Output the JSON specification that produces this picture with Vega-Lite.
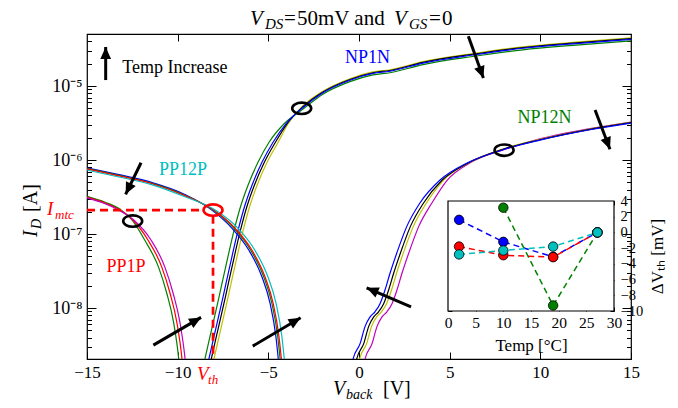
{
  "$schema": "https://vega.github.io/schema/vega-lite/v6.json",
  "width": 544,
  "height": 325,
  "autosize": {"type": "none"},
  "padding": {"left": 87, "top": 34, "right": 47, "bottom": 49},
  "background": "white",
  "config": {
    "font": "Liberation Serif",
    "view": {"stroke": "black", "strokeWidth": 1.2},
    "axis": {"grid": false, "domain": false, "tickColor": "black", "tickWidth": 1, "labelColor": "black", "labelFont": "Liberation Serif", "labelFontSize": 17, "titleFont": "Liberation Serif", "titleFontWeight": "normal", "titleColor": "black", "titleFontSize": 17, "labelFlush": false, "labelOverlap": false, "zindex": 1},
    "text": {"font": "Liberation Serif"}
  },
  "datasets": {
    "curves": [
      {"s":"NP1N-1","v":-8.17,"i":1.32e-9},{"s":"NP1N-1","v":-7.99,"i":2.09e-9},{"s":"NP1N-1","v":-7.61,"i":5.37e-9},{"s":"NP1N-1","v":-7.22,"i":1.41e-8},{"s":"NP1N-1","v":-6.84,"i":3.72e-8},{"s":"NP1N-1","v":-6.39,"i":1.12e-7},{"s":"NP1N-1","v":-6.01,"i":2.45e-7},{"s":"NP1N-1","v":-5.62,"i":4.57e-7},{"s":"NP1N-1","v":-5.07,"i":9.33e-7},{"s":"NP1N-1","v":-4.46,"i":1.74e-6},{"s":"NP1N-1","v":-3.91,"i":3.09e-6},{"s":"NP1N-1","v":-3.14,"i":5.25e-6},{"s":"NP1N-1","v":-1.99,"i":8.51e-6},{"s":"NP1N-1","v":-0.5,"i":1.256e-5},{"s":"NP1N-1","v":0.77,"i":1.55e-5},{"s":"NP1N-1","v":1.71,"i":1.66e-5},{"s":"NP1N-1","v":3.53,"i":2.14e-5},{"s":"NP1N-1","v":6.29,"i":2.75e-5},{"s":"NP1N-1","v":9.05,"i":3.39e-5},{"s":"NP1N-1","v":11.8,"i":3.89e-5},{"s":"NP1N-1","v":15,"i":4.47e-5},
      {"s":"NP1N-3","v":-8.32,"i":1.32e-9},{"s":"NP1N-3","v":-8.14,"i":2.09e-9},{"s":"NP1N-3","v":-7.76,"i":5.37e-9},{"s":"NP1N-3","v":-7.37,"i":1.41e-8},{"s":"NP1N-3","v":-6.99,"i":3.72e-8},{"s":"NP1N-3","v":-6.54,"i":1.12e-7},{"s":"NP1N-3","v":-6.16,"i":2.45e-7},{"s":"NP1N-3","v":-5.77,"i":4.57e-7},{"s":"NP1N-3","v":-5.22,"i":9.33e-7},{"s":"NP1N-3","v":-4.61,"i":1.74e-6},{"s":"NP1N-3","v":-3.97,"i":3.09e-6},{"s":"NP1N-3","v":-3.14,"i":5.13e-6},{"s":"NP1N-3","v":-1.99,"i":8.32e-6},{"s":"NP1N-3","v":-0.5,"i":1.228e-5},{"s":"NP1N-3","v":0.77,"i":1.514e-5},{"s":"NP1N-3","v":1.71,"i":1.622e-5},{"s":"NP1N-3","v":3.53,"i":2.09e-5},{"s":"NP1N-3","v":6.29,"i":2.69e-5},{"s":"NP1N-3","v":9.05,"i":3.31e-5},{"s":"NP1N-3","v":11.8,"i":3.81e-5},{"s":"NP1N-3","v":15,"i":4.37e-5},
      {"s":"NP1N-2","v":-8.67,"i":1.32e-9},{"s":"NP1N-2","v":-8.49,"i":2.09e-9},{"s":"NP1N-2","v":-8.11,"i":5.37e-9},{"s":"NP1N-2","v":-7.72,"i":1.41e-8},{"s":"NP1N-2","v":-7.34,"i":3.72e-8},{"s":"NP1N-2","v":-6.89,"i":1.12e-7},{"s":"NP1N-2","v":-6.51,"i":2.45e-7},{"s":"NP1N-2","v":-6.12,"i":4.57e-7},{"s":"NP1N-2","v":-5.57,"i":9.33e-7},{"s":"NP1N-2","v":-4.96,"i":1.74e-6},{"s":"NP1N-2","v":-4.13,"i":3.09e-6},{"s":"NP1N-2","v":-3.14,"i":4.78e-6},{"s":"NP1N-2","v":-1.99,"i":7.76e-6},{"s":"NP1N-2","v":-0.5,"i":1.146e-5},{"s":"NP1N-2","v":0.77,"i":1.413e-5},{"s":"NP1N-2","v":1.71,"i":1.514e-5},{"s":"NP1N-2","v":3.53,"i":1.95e-5},{"s":"NP1N-2","v":6.29,"i":2.51e-5},{"s":"NP1N-2","v":9.05,"i":3.09e-5},{"s":"NP1N-2","v":11.8,"i":3.55e-5},{"s":"NP1N-2","v":15,"i":4.08e-5},
      {"s":"NP1N-4","v":-8.45,"i":1.32e-9},{"s":"NP1N-4","v":-8.27,"i":2.09e-9},{"s":"NP1N-4","v":-7.89,"i":5.37e-9},{"s":"NP1N-4","v":-7.5,"i":1.41e-8},{"s":"NP1N-4","v":-7.12,"i":3.72e-8},{"s":"NP1N-4","v":-6.67,"i":1.12e-7},{"s":"NP1N-4","v":-6.29,"i":2.45e-7},{"s":"NP1N-4","v":-5.9,"i":4.57e-7},{"s":"NP1N-4","v":-5.35,"i":9.33e-7},{"s":"NP1N-4","v":-4.74,"i":1.74e-6},{"s":"NP1N-4","v":-4.03,"i":3.09e-6},{"s":"NP1N-4","v":-3.14,"i":5.01e-6},{"s":"NP1N-4","v":-1.99,"i":8.13e-6},{"s":"NP1N-4","v":-0.5,"i":1.2e-5},{"s":"NP1N-4","v":0.77,"i":1.48e-5},{"s":"NP1N-4","v":1.71,"i":1.585e-5},{"s":"NP1N-4","v":3.53,"i":2.04e-5},{"s":"NP1N-4","v":6.29,"i":2.63e-5},{"s":"NP1N-4","v":9.05,"i":3.24e-5},{"s":"NP1N-4","v":11.8,"i":3.72e-5},{"s":"NP1N-4","v":15,"i":4.27e-5},
      {"s":"NP12N-1","v":0.21,"i":1.26e-9},{"s":"NP12N-1","v":0.33,"i":2.04e-9},{"s":"NP12N-1","v":0.72,"i":3.31e-9},{"s":"NP12N-1","v":0.99,"i":5.62e-9},{"s":"NP12N-1","v":1.27,"i":7.59e-9},{"s":"NP12N-1","v":1.54,"i":8.91e-9},{"s":"NP12N-1","v":1.82,"i":1.148e-8},{"s":"NP12N-1","v":2.09,"i":1.74e-8},{"s":"NP12N-1","v":2.37,"i":2.95e-8},{"s":"NP12N-1","v":2.74,"i":5.5e-8},{"s":"NP12N-1","v":3.29,"i":1.26e-7},{"s":"NP12N-1","v":4.02,"i":2.63e-7},{"s":"NP12N-1","v":4.87,"i":5.37e-7},{"s":"NP12N-1","v":6.11,"i":9.12e-7},{"s":"NP12N-1","v":7.99,"i":1.38e-6},{"s":"NP12N-1","v":9.98,"i":1.93e-6},{"s":"NP12N-1","v":12.74,"i":2.66e-6},{"s":"NP12N-1","v":15,"i":3.27e-6},
      {"s":"NP12N-2","v":-0.09,"i":1.26e-9},{"s":"NP12N-2","v":0.03,"i":2.04e-9},{"s":"NP12N-2","v":0.42,"i":3.31e-9},{"s":"NP12N-2","v":0.69,"i":5.62e-9},{"s":"NP12N-2","v":0.97,"i":7.59e-9},{"s":"NP12N-2","v":1.24,"i":8.91e-9},{"s":"NP12N-2","v":1.52,"i":1.148e-8},{"s":"NP12N-2","v":1.79,"i":1.74e-8},{"s":"NP12N-2","v":2.07,"i":2.95e-8},{"s":"NP12N-2","v":2.44,"i":5.5e-8},{"s":"NP12N-2","v":2.99,"i":1.26e-7},{"s":"NP12N-2","v":3.72,"i":2.63e-7},{"s":"NP12N-2","v":4.67,"i":5.37e-7},{"s":"NP12N-2","v":6.04,"i":9.12e-7},{"s":"NP12N-2","v":7.94,"i":1.41e-6},{"s":"NP12N-2","v":9.98,"i":1.9e-6},{"s":"NP12N-2","v":12.74,"i":2.63e-6},{"s":"NP12N-2","v":15,"i":3.23e-6},
      {"s":"NP12N-3","v":-0.25,"i":1.26e-9},{"s":"NP12N-3","v":-0.13,"i":2.04e-9},{"s":"NP12N-3","v":0.26,"i":3.31e-9},{"s":"NP12N-3","v":0.53,"i":5.62e-9},{"s":"NP12N-3","v":0.81,"i":7.59e-9},{"s":"NP12N-3","v":1.08,"i":8.91e-9},{"s":"NP12N-3","v":1.36,"i":1.148e-8},{"s":"NP12N-3","v":1.63,"i":1.74e-8},{"s":"NP12N-3","v":1.91,"i":2.95e-8},{"s":"NP12N-3","v":2.28,"i":5.5e-8},{"s":"NP12N-3","v":2.83,"i":1.26e-7},{"s":"NP12N-3","v":3.56,"i":2.63e-7},{"s":"NP12N-3","v":4.59,"i":5.37e-7},{"s":"NP12N-3","v":6.01,"i":9.12e-7},{"s":"NP12N-3","v":7.94,"i":1.397e-6},{"s":"NP12N-3","v":9.98,"i":1.88e-6},{"s":"NP12N-3","v":12.74,"i":2.6e-6},{"s":"NP12N-3","v":15,"i":3.2e-6},
      {"s":"NP12N-4","v":-0.45,"i":1.26e-9},{"s":"NP12N-4","v":-0.33,"i":2.04e-9},{"s":"NP12N-4","v":0.06,"i":3.31e-9},{"s":"NP12N-4","v":0.33,"i":5.62e-9},{"s":"NP12N-4","v":0.61,"i":7.59e-9},{"s":"NP12N-4","v":0.88,"i":8.91e-9},{"s":"NP12N-4","v":1.16,"i":1.148e-8},{"s":"NP12N-4","v":1.43,"i":1.74e-8},{"s":"NP12N-4","v":1.71,"i":2.95e-8},{"s":"NP12N-4","v":2.08,"i":5.5e-8},{"s":"NP12N-4","v":2.63,"i":1.26e-7},{"s":"NP12N-4","v":3.36,"i":2.63e-7},{"s":"NP12N-4","v":4.47,"i":5.37e-7},{"s":"NP12N-4","v":5.96,"i":9.12e-7},{"s":"NP12N-4","v":7.94,"i":1.38e-6},{"s":"NP12N-4","v":9.98,"i":1.86e-6},{"s":"NP12N-4","v":12.74,"i":2.57e-6},{"s":"NP12N-4","v":15,"i":3.16e-6},
      {"s":"PP12P-1","v":-15,"i":7.86e-7},{"s":"PP12P-1","v":-13.3,"i":6.39e-7},{"s":"PP12P-1","v":-11.4,"i":4.96e-7},{"s":"PP12P-1","v":-9.6,"i":3.43e-7},{"s":"PP12P-1","v":-8.15,"i":2.14e-7},{"s":"PP12P-1","v":-7.01,"i":1.2e-7},{"s":"PP12P-1","v":-6.07,"i":6.03e-8},{"s":"PP12P-1","v":-5.35,"i":2.63e-8},{"s":"PP12P-1","v":-4.91,"i":1.175e-8},{"s":"PP12P-1","v":-4.58,"i":4.07e-9},{"s":"PP12P-1","v":-4.45,"i":2.04e-9},{"s":"PP12P-1","v":-4.37,"i":1.26e-9},
      {"s":"PP12P-2","v":-15,"i":7.68e-7},{"s":"PP12P-2","v":-13.3,"i":6.24e-7},{"s":"PP12P-2","v":-11.4,"i":4.85e-7},{"s":"PP12P-2","v":-9.6,"i":3.35e-7},{"s":"PP12P-2","v":-8.09,"i":2.14e-7},{"s":"PP12P-2","v":-6.91,"i":1.2e-7},{"s":"PP12P-2","v":-5.97,"i":6.03e-8},{"s":"PP12P-2","v":-5.25,"i":2.63e-8},{"s":"PP12P-2","v":-4.81,"i":1.175e-8},{"s":"PP12P-2","v":-4.48,"i":4.07e-9},{"s":"PP12P-2","v":-4.35,"i":2.04e-9},{"s":"PP12P-2","v":-4.27,"i":1.26e-9},
      {"s":"PP12P-3","v":-15,"i":7.59e-7},{"s":"PP12P-3","v":-13.3,"i":6.17e-7},{"s":"PP12P-3","v":-11.4,"i":4.79e-7},{"s":"PP12P-3","v":-9.6,"i":3.31e-7},{"s":"PP12P-3","v":-8.05,"i":2.14e-7},{"s":"PP12P-3","v":-6.84,"i":1.2e-7},{"s":"PP12P-3","v":-5.9,"i":6.03e-8},{"s":"PP12P-3","v":-5.18,"i":2.63e-8},{"s":"PP12P-3","v":-4.74,"i":1.175e-8},{"s":"PP12P-3","v":-4.41,"i":4.07e-9},{"s":"PP12P-3","v":-4.28,"i":2.04e-9},{"s":"PP12P-3","v":-4.2,"i":1.26e-9},
      {"s":"PP12P-4","v":-15,"i":7.32e-7},{"s":"PP12P-4","v":-13.3,"i":5.95e-7},{"s":"PP12P-4","v":-11.4,"i":4.62e-7},{"s":"PP12P-4","v":-9.6,"i":3.19e-7},{"s":"PP12P-4","v":-7.97,"i":2.14e-7},{"s":"PP12P-4","v":-6.68,"i":1.2e-7},{"s":"PP12P-4","v":-5.74,"i":6.03e-8},{"s":"PP12P-4","v":-5.02,"i":2.63e-8},{"s":"PP12P-4","v":-4.58,"i":1.175e-8},{"s":"PP12P-4","v":-4.25,"i":4.07e-9},{"s":"PP12P-4","v":-4.12,"i":2.04e-9},{"s":"PP12P-4","v":-4.04,"i":1.26e-9},
      {"s":"PP1P-1","v":-15,"i":3.23e-7},{"s":"PP1P-1","v":-14,"i":2.69e-7},{"s":"PP1P-1","v":-13.18,"i":2.16e-7},{"s":"PP1P-1","v":-12.52,"i":1.55e-7},{"s":"PP1P-1","v":-11.82,"i":8.32e-8},{"s":"PP1P-1","v":-11.05,"i":3.55e-8},{"s":"PP1P-1","v":-10.6,"i":1.585e-8},{"s":"PP1P-1","v":-10.22,"i":6.31e-9},{"s":"PP1P-1","v":-9.94,"i":2.04e-9},{"s":"PP1P-1","v":-9.86,"i":1.26e-9},
      {"s":"PP1P-2","v":-15,"i":3.16e-7},{"s":"PP1P-2","v":-14,"i":2.63e-7},{"s":"PP1P-2","v":-13.18,"i":2.11e-7},{"s":"PP1P-2","v":-12.47,"i":1.55e-7},{"s":"PP1P-2","v":-11.64,"i":8.32e-8},{"s":"PP1P-2","v":-10.87,"i":3.55e-8},{"s":"PP1P-2","v":-10.42,"i":1.585e-8},{"s":"PP1P-2","v":-10.04,"i":6.31e-9},{"s":"PP1P-2","v":-9.76,"i":2.04e-9},{"s":"PP1P-2","v":-9.68,"i":1.26e-9},
      {"s":"PP1P-3","v":-15,"i":3.09e-7},{"s":"PP1P-3","v":-14,"i":2.57e-7},{"s":"PP1P-3","v":-13.18,"i":2.06e-7},{"s":"PP1P-3","v":-12.42,"i":1.55e-7},{"s":"PP1P-3","v":-11.47,"i":8.32e-8},{"s":"PP1P-3","v":-10.7,"i":3.55e-8},{"s":"PP1P-3","v":-10.25,"i":1.585e-8},{"s":"PP1P-3","v":-9.87,"i":6.31e-9},{"s":"PP1P-3","v":-9.59,"i":2.04e-9},{"s":"PP1P-3","v":-9.51,"i":1.26e-9}
    ],
    "inset": [
      {"dev":"NP1N","temp":2,"dvth":1.6},{"dev":"NP1N","temp":10,"dvth":-1.2},{"dev":"NP1N","temp":19,"dvth":-3.1},{"dev":"NP1N","temp":27,"dvth":0},
      {"dev":"NP12N","temp":10,"dvth":3.15},{"dev":"NP12N","temp":19,"dvth":-9.3},{"dev":"NP12N","temp":27,"dvth":0},
      {"dev":"PP1P","temp":2,"dvth":-1.8},{"dev":"PP1P","temp":10,"dvth":-2.9},{"dev":"PP1P","temp":19,"dvth":-3.15},{"dev":"PP1P","temp":27,"dvth":0},
      {"dev":"PP12P","temp":2,"dvth":-2.8},{"dev":"PP12P","temp":10,"dvth":-2.3},{"dev":"PP12P","temp":19,"dvth":-1.8},{"dev":"PP12P","temp":27,"dvth":0}
    ],
    "arrows": [
      {"v":-13.97,"i":1.205e-5,"v2":-13.97,"i2":3.37e-5,"dir":0},
      {"v":-12.02,"i":9.2e-7,"v2":-12.87,"i2":3.44e-7,"dir":205.8},
      {"v":6.03,"i":4.7e-5,"v2":6.86,"i2":1.28e-5,"dir":160.2},
      {"v":13.02,"i":4.74e-6,"v2":13.84,"i2":1.4e-6,"dir":159.1},
      {"v":-11.34,"i":3.16e-9,"v2":-8.71,"i2":7.48e-9,"dir":59.9},
      {"v":-5.86,"i":3.06e-9,"v2":-3.22,"i2":7.4e-9,"dir":59.5},
      {"v":2.87,"i":1.04e-8,"v2":0.42,"i2":1.88e-8,"dir":293.2}
    ],
    "labels": [
      {"t":"NP1N","dev":"NP1N","v":0.47,"i":2.4e-5},
      {"t":"NP12N","dev":"NP12N","v":10.23,"i":3.7e-6},
      {"t":"PP12P","dev":"PP12P","v":-9.71,"i":7.33e-7},
      {"t":"PP1P","dev":"PP1P","v":-12.85,"i":3.61e-8},
      {"t":"Temp Increase","dev":"note","v":-10.15,"i":1.75e-5}
    ]
  },
  "layer": [
    {
      "data": {"values": [{}]},
      "layer": [
        {
          "data": {"name": "curves"},
          "mark": {"type": "line", "clip": true, "strokeWidth": 1.2, "interpolate": "monotone"},
          "encoding": {
            "x": {"field": "v", "type": "quantitative", "scale": {"domain": [-15, 15], "nice": false, "zero": false},
                  "axis": {"orient": "bottom", "title": null, "values": [-15, -10, -5, 0, 5, 10, 15], "tickSize": -7, "labelPadding": 12}},
            "y": {"field": "i", "type": "quantitative", "scale": {"type": "log", "domain": [2.05e-9, 5.05e-5], "nice": false},
                  "axis": {"orient": "left", "title": null, "values": [1e-8, 1e-7, 1e-6, 1e-5], "tickSize": -9, "labelPadding": 14, "labelFontSize": 18,
                           "labelExpr": "datum.value > 9e-6 ? '10⁻⁵' : datum.value > 9e-7 ? '10⁻⁶' : datum.value > 9e-8 ? '10⁻⁷' : '10⁻⁸'"}},
            "stroke": {"field": "s", "type": "nominal", "legend": null,
                       "scale": {"domain": ["NP1N-1","NP1N-2","NP1N-3","NP1N-4","NP12N-1","NP12N-2","NP12N-3","NP12N-4","PP12P-1","PP12P-2","PP12P-3","PP12P-4","PP1P-1","PP1P-2","PP1P-3"],
                                 "range": ["#bfbf00","#008000","#000000","#0000ff","#bf00bf","#bfbf00","#000000","#0000ff","#0000ff","#008000","#ff0000","#00bfbf","#008000","#ff0000","#bf00bf"]}}
          }
        },
        {
          "mark": {"type": "point", "opacity": 0},
          "encoding": {
            "x": {"datum": 0, "type": "quantitative", "axis": {"orient": "top", "title": null, "values": [-10, -5, 0, 5, 10], "tickSize": -7, "labels": false}},
            "y": {"datum": 1e-6, "type": "quantitative", "axis": {"orient": "left", "title": null, "labels": false, "tickSize": -4.5,
                  "values": [3e-9,4e-9,5e-9,6e-9,7e-9,8e-9,9e-9,2e-8,3e-8,4e-8,5e-8,6e-8,7e-8,8e-8,9e-8,2e-7,3e-7,4e-7,5e-7,6e-7,7e-7,8e-7,9e-7,2e-6,3e-6,4e-6,5e-6,6e-6,7e-6,8e-6,9e-6,2e-5,3e-5,4e-5,5e-5]}}
          }
        },
        {
          "mark": {"type": "point", "opacity": 0},
          "encoding": {
            "x": {"datum": 0, "type": "quantitative", "axis": null},
            "y": {"datum": 1e-6, "type": "quantitative", "axis": {"orient": "right", "title": null, "labels": false, "tickSize": -9, "values": [1e-8, 1e-7, 1e-6, 1e-5]}}
          }
        },
        {
          "mark": {"type": "point", "opacity": 0},
          "encoding": {
            "x": {"datum": 0, "type": "quantitative", "axis": null},
            "y": {"datum": 1e-6, "type": "quantitative", "axis": {"orient": "right", "title": null, "labels": false, "tickSize": -4.5,
                  "values": [3e-9,4e-9,5e-9,6e-9,7e-9,8e-9,9e-9,2e-8,3e-8,4e-8,5e-8,6e-8,7e-8,8e-8,9e-8,2e-7,3e-7,4e-7,5e-7,6e-7,7e-7,8e-7,9e-7,2e-6,3e-6,4e-6,5e-6,6e-6,7e-6,8e-6,9e-6,2e-5,3e-5,4e-5,5e-5]}}
          }
        },
        {
          "data": {"values": [{"v":-15,"i":2.11e-7,"v2":-8.57,"i2":2.11e-7},{"v":-8.05,"i":1.77e-7,"v2":-8.05,"i2":2.05e-9}]},
          "mark": {"type": "rule", "color": "#ff0000", "strokeWidth": 2.7, "strokeDash": [8, 5]},
          "encoding": {
            "x": {"field": "v", "type": "quantitative", "axis": null},
            "y": {"field": "i", "type": "quantitative", "axis": null},
            "x2": {"field": "v2"},
            "y2": {"field": "i2"}
          }
        },
        {
          "data": {"values": [{"v":-12.48,"i":1.5e-7},{"v":-3.16,"i":5.0e-6},{"v":8.0,"i":1.36e-6}]},
          "mark": {"type": "point", "shape": "M -1 0 A 1 0.6 0 1 1 1 0 A 1 0.6 0 1 1 -1 0 Z", "size": 361, "filled": false, "stroke": "black", "strokeWidth": 2.6, "opacity": 1},
          "encoding": {
            "x": {"field": "v", "type": "quantitative", "axis": null},
            "y": {"field": "i", "type": "quantitative", "axis": null}
          }
        },
        {
          "data": {"values": [{"v":-8.05,"i":2.11e-7}]},
          "mark": {"type": "point", "shape": "M -1 0 A 1 0.6 0 1 1 1 0 A 1 0.6 0 1 1 -1 0 Z", "size": 361, "filled": false, "stroke": "#ff0000", "strokeWidth": 2.6, "opacity": 1},
          "encoding": {
            "x": {"field": "v", "type": "quantitative", "axis": null},
            "y": {"field": "i", "type": "quantitative", "axis": null}
          }
        },
        {
          "data": {"name": "arrows"},
          "mark": {"type": "rule", "color": "black", "strokeWidth": 3},
          "encoding": {
            "x": {"field": "v", "type": "quantitative", "axis": null},
            "y": {"field": "i", "type": "quantitative", "axis": null},
            "x2": {"field": "v2"},
            "y2": {"field": "i2"}
          }
        },
        {
          "data": {"name": "arrows"},
          "mark": {"type": "point", "shape": "M 0 0 L 0.45 1 L -0.45 1 Z", "size": 576, "filled": true, "color": "black", "opacity": 1, "strokeWidth": 0},
          "encoding": {
            "x": {"field": "v2", "type": "quantitative", "axis": null},
            "y": {"field": "i2", "type": "quantitative", "axis": null},
            "angle": {"field": "dir", "type": "quantitative", "scale": null}
          }
        },
        {
          "data": {"name": "labels"},
          "mark": {"type": "text", "fontSize": 18, "align": "center", "baseline": "middle"},
          "encoding": {
            "x": {"field": "v", "type": "quantitative", "axis": null},
            "y": {"field": "i", "type": "quantitative", "axis": null},
            "text": {"field": "t"},
            "color": {"field": "dev", "type": "nominal", "legend": null,
                      "scale": {"domain": ["NP1N", "NP12N", "PP1P", "PP12P", "note"], "range": ["#0000ff", "#008000", "#ff0000", "#00bfbf", "#000000"]}}
          }
        },
        {"mark": {"type": "text", "text": "V", "fontSize": 21, "fontStyle": "italic", "align": "left", "baseline": "alphabetic", "dx": -109, "dy": -9, "color": "black"},
         "encoding": {"x": {"datum": 0, "type": "quantitative", "axis": null}, "y": {"datum": 5.05e-5, "type": "quantitative", "axis": null}}},
        {"mark": {"type": "text", "text": "DS", "fontSize": 15, "fontStyle": "italic", "align": "left", "baseline": "alphabetic", "dx": -94, "dy": -5, "color": "black"},
         "encoding": {"x": {"datum": 0, "type": "quantitative", "axis": null}, "y": {"datum": 5.05e-5, "type": "quantitative", "axis": null}}},
        {"mark": {"type": "text", "text": "=", "fontSize": 21, "align": "left", "baseline": "alphabetic", "dx": -75, "dy": -9, "color": "black"},
         "encoding": {"x": {"datum": 0, "type": "quantitative", "axis": null}, "y": {"datum": 5.05e-5, "type": "quantitative", "axis": null}}},
        {"mark": {"type": "text", "text": "50mV and", "fontSize": 21, "align": "left", "baseline": "alphabetic", "dx": -62, "dy": -9, "color": "black"},
         "encoding": {"x": {"datum": 0, "type": "quantitative", "axis": null}, "y": {"datum": 5.05e-5, "type": "quantitative", "axis": null}}},
        {"mark": {"type": "text", "text": "V", "fontSize": 21, "fontStyle": "italic", "align": "left", "baseline": "alphabetic", "dx": 35, "dy": -9, "color": "black"},
         "encoding": {"x": {"datum": 0, "type": "quantitative", "axis": null}, "y": {"datum": 5.05e-5, "type": "quantitative", "axis": null}}},
        {"mark": {"type": "text", "text": "GS", "fontSize": 15, "fontStyle": "italic", "align": "left", "baseline": "alphabetic", "dx": 50, "dy": -5, "color": "black"},
         "encoding": {"x": {"datum": 0, "type": "quantitative", "axis": null}, "y": {"datum": 5.05e-5, "type": "quantitative", "axis": null}}},
        {"mark": {"type": "text", "text": "=", "fontSize": 21, "align": "left", "baseline": "alphabetic", "dx": 70, "dy": -9, "color": "black"},
         "encoding": {"x": {"datum": 0, "type": "quantitative", "axis": null}, "y": {"datum": 5.05e-5, "type": "quantitative", "axis": null}}},
        {"mark": {"type": "text", "text": "0", "fontSize": 21, "align": "left", "baseline": "alphabetic", "dx": 83, "dy": -9, "color": "black"},
         "encoding": {"x": {"datum": 0, "type": "quantitative", "axis": null}, "y": {"datum": 5.05e-5, "type": "quantitative", "axis": null}}},
        {"mark": {"type": "text", "text": "V", "fontSize": 20, "fontStyle": "italic", "align": "left", "baseline": "alphabetic", "dx": -26, "dy": 36, "color": "black"},
         "encoding": {"x": {"datum": 0, "type": "quantitative", "axis": null}, "y": {"datum": 2.05e-9, "type": "quantitative", "axis": null}}},
        {"mark": {"type": "text", "text": "back", "fontSize": 14, "fontStyle": "italic", "align": "left", "baseline": "alphabetic", "dx": -13, "dy": 40, "color": "black"},
         "encoding": {"x": {"datum": 0, "type": "quantitative", "axis": null}, "y": {"datum": 2.05e-9, "type": "quantitative", "axis": null}}},
        {"mark": {"type": "text", "text": "[V]", "fontSize": 20, "align": "left", "baseline": "alphabetic", "dx": 24, "dy": 36, "color": "black"},
         "encoding": {"x": {"datum": 0, "type": "quantitative", "axis": null}, "y": {"datum": 2.05e-9, "type": "quantitative", "axis": null}}},
        {"mark": {"type": "text", "text": "I", "fontSize": 20, "fontStyle": "italic", "align": "left", "baseline": "alphabetic", "angle": 270, "dx": -36, "dy": -50, "color": "black"},
         "encoding": {"x": {"datum": -15, "type": "quantitative", "axis": null}, "y": {"datum": 2.8e-7, "type": "quantitative", "axis": null}}},
        {"mark": {"type": "text", "text": "D", "fontSize": 14, "fontStyle": "italic", "align": "left", "baseline": "alphabetic", "angle": 270, "dx": -28, "dy": -46, "color": "black"},
         "encoding": {"x": {"datum": -15, "type": "quantitative", "axis": null}, "y": {"datum": 2.8e-7, "type": "quantitative", "axis": null}}},
        {"mark": {"type": "text", "text": "[A]", "fontSize": 20, "align": "left", "baseline": "alphabetic", "angle": 270, "dx": -11, "dy": -50, "color": "black"},
         "encoding": {"x": {"datum": -15, "type": "quantitative", "axis": null}, "y": {"datum": 2.8e-7, "type": "quantitative", "axis": null}}},
        {"mark": {"type": "text", "text": "V", "fontSize": 19, "fontStyle": "italic", "align": "left", "baseline": "alphabetic", "dx": -16, "dy": 21, "color": "#ff0000"},
         "encoding": {"x": {"datum": -8.05, "type": "quantitative", "axis": null}, "y": {"datum": 2.05e-9, "type": "quantitative", "axis": null}}},
        {"mark": {"type": "text", "text": "th", "fontSize": 13, "fontStyle": "italic", "align": "left", "baseline": "alphabetic", "dx": -5, "dy": 25, "color": "#ff0000"},
         "encoding": {"x": {"datum": -8.05, "type": "quantitative", "axis": null}, "y": {"datum": 2.05e-9, "type": "quantitative", "axis": null}}},
        {"mark": {"type": "text", "text": "I", "fontSize": 19, "fontStyle": "italic", "align": "left", "baseline": "alphabetic", "dx": -40, "dy": 5, "color": "#ff0000"},
         "encoding": {"x": {"datum": -15, "type": "quantitative", "axis": null}, "y": {"datum": 2.11e-7, "type": "quantitative", "axis": null}}},
        {"mark": {"type": "text", "text": "mtc", "fontSize": 13, "fontStyle": "italic", "align": "left", "baseline": "alphabetic", "dx": -32, "dy": 9, "color": "#ff0000"},
         "encoding": {"x": {"datum": -15, "type": "quantitative", "axis": null}, "y": {"datum": 2.11e-7, "type": "quantitative", "axis": null}}}
      ],
      "resolve": {"axis": {"x": "independent", "y": "independent"}}
    },
    {
      "layer": [
        {
          "data": {"values": [{"t0": 0, "t1": 30, "d0": -10, "d1": 4}]},
          "mark": {"type": "rect", "fill": "white", "stroke": "black", "strokeWidth": 1.2},
          "encoding": {
            "x": {"field": "t0", "type": "quantitative", "scale": {"domain": [0, 30], "range": [361, 527], "nice": false, "zero": false},
                  "axis": {"orient": "bottom", "offset": -48, "values": [0, 5, 10, 15, 20, 25, 30], "tickSize": -4, "labelPadding": 8, "labelFontSize": 15.5, "title": "Temp [°C]", "titlePadding": 7}},
            "x2": {"field": "t1"},
            "y": {"field": "d0", "type": "quantitative", "scale": {"domain": [-10, 4], "range": [277, 167], "nice": false, "zero": false},
                  "axis": {"orient": "left", "offset": -361, "values": [-10, -8, -6, -4, -2, 0, 2, 4], "tickSize": -4, "labels": false, "title": null}},
            "y2": {"field": "d1"}
          }
        },
        {
          "data": {"name": "inset"},
          "mark": {"type": "line", "strokeDash": [6, 4], "strokeWidth": 1.5},
          "encoding": {
            "x": {"field": "temp", "type": "quantitative",
                  "axis": {"orient": "top", "offset": -167, "values": [0, 5, 10, 15, 20, 25, 30], "tickSize": -4, "labels": false, "title": null}},
            "y": {"field": "dvth", "type": "quantitative",
                  "axis": {"orient": "right", "offset": -17, "values": [-10, -8, -6, -4, -2, 0, 2, 4], "tickSize": -4, "labelPadding": 10, "labelFontSize": 14.5, "title": "ΔVₜₕ [mV]", "titleAngle": 270, "titlePadding": 24}},
            "color": {"field": "dev", "type": "nominal", "legend": null,
                      "scale": {"domain": ["NP1N", "NP12N", "PP1P", "PP12P"], "range": ["#0000ff", "#008000", "#ff0000", "#00bfbf"]}}
          }
        },
        {
          "data": {"name": "inset"},
          "mark": {"type": "point", "shape": "circle", "filled": true, "size": 90, "stroke": "black", "strokeWidth": 0.8, "opacity": 1},
          "encoding": {
            "x": {"field": "temp", "type": "quantitative", "axis": null},
            "y": {"field": "dvth", "type": "quantitative", "axis": null},
            "color": {"field": "dev", "type": "nominal", "legend": null}
          }
        }
      ],
      "resolve": {"axis": {"x": "independent", "y": "independent"}}
    }
  ],
  "resolve": {"scale": {"x": "independent", "y": "independent", "color": "independent"}}
}
